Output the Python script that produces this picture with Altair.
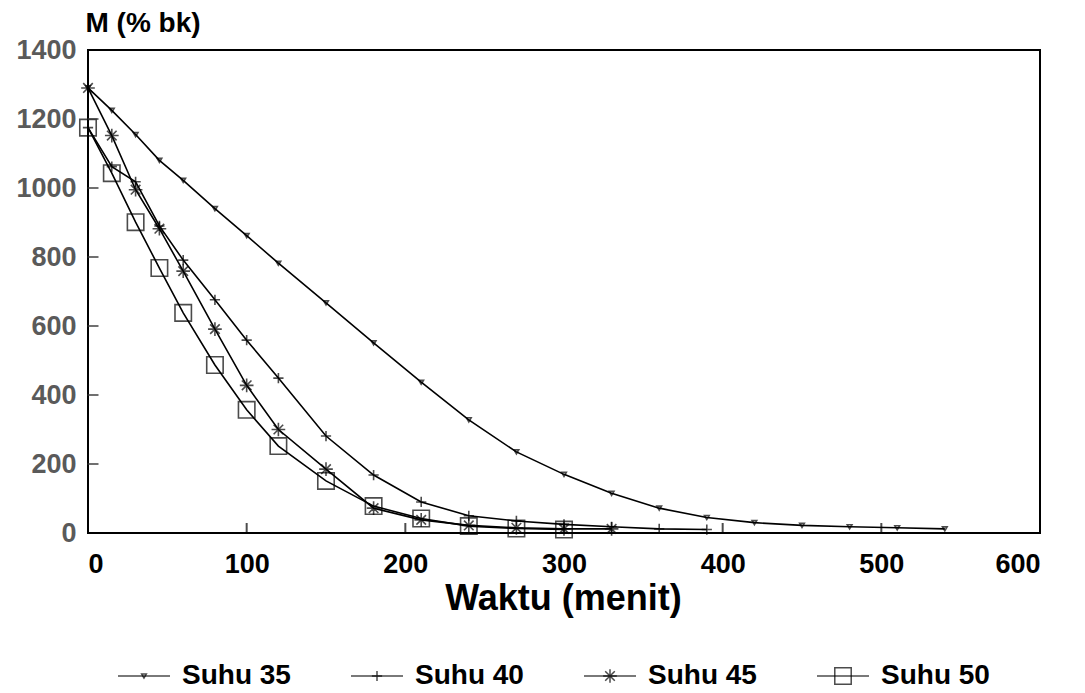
import altair as alt
import pandas as pd

series = ["Suhu 35", "Suhu 40", "Suhu 45", "Suhu 50"]

t35 = [0, 15, 30, 45, 60, 80, 100, 120, 150, 180, 210, 240, 270, 300, 330, 360, 390, 420, 450, 480, 510, 540]
m35 = [1290, 1225, 1155, 1080, 1022, 940, 862, 782, 667, 551, 437, 328, 235, 170, 115, 72, 45, 30, 22, 18, 15, 12]
t40 = [0, 15, 30, 45, 60, 80, 100, 120, 150, 180, 210, 240, 270, 300, 330, 360, 390]
m40 = [1175, 1062, 1018, 890, 791, 676, 559, 449, 281, 168, 90, 50, 35, 25, 18, 12, 10]
t45 = [0, 15, 30, 45, 60, 80, 100, 120, 150, 180, 210, 240, 270, 300, 330]
m45 = [1290, 1152, 995, 882, 759, 591, 428, 300, 185, 72, 38, 22, 15, 12, 12]
t50 = [0, 15, 30, 45, 60, 80, 100, 120, 150, 180, 210, 240, 270, 300]
m50 = [1175, 1043, 901, 768, 638, 487, 357, 252, 151, 78, 42, 20, 13, 10]

x_ticks = [0, 100, 200, 300, 400, 500, 600]
y_ticks = [0, 200, 400, 600, 800, 1000, 1200, 1400]

shapes = [
    "triangle-down",
    "M-1,0L1,0M0,-1L0,1",
    "M-1,0L1,0M0,-1L0,1M-0.7,-0.7L0.7,0.7M-0.7,0.7L0.7,-0.7",
    "square",
]
sizes = [22, 270, 260, 140]

rows = []
for name, ts, ms in zip(series, [t35, t40, t45, t50], [m35, m40, m45, m50]):
    for t, m in zip(ts, ms):
        rows.append({"series": name, "t": t, "m": m})
df = pd.DataFrame(rows)
xt_df = pd.DataFrame({"v": x_ticks[1:-1]})
yt_df = pd.DataFrame({"v": y_ticks[1:-1]})

FONT = "Liberation Sans"
xs = alt.Scale(domain=[0, 600], nice=False, zero=False)
ys = alt.Scale(domain=[0, 1400], nice=False)
shape_scale = alt.Scale(domain=series, range=shapes)
size_scale = alt.Scale(domain=series, range=sizes)

base = alt.Chart(df)

lines = base.mark_line(color="black", strokeWidth=1.6).encode(
    x=alt.X("t:Q", scale=xs, axis=alt.Axis(
        values=x_ticks, ticks=False, domain=False, grid=False, labelPadding=18, format="d",
        labelFont=FONT, labelFontSize=27, labelFontWeight="bold", labelColor="black",
        title="Waktu (menit)", titleFont=FONT, titleFontSize=36, titleFontWeight="bold",
        titleColor="black", titlePadding=4, titleX=475)),
    y=alt.Y("m:Q", scale=ys, axis=alt.Axis(
        values=y_ticks, ticks=False, domain=False, grid=False, labelPadding=12, format="d",
        labelFont=FONT, labelFontSize=27, labelFontWeight="bold", labelColor="#5a5a5a",
        title="M (% bk)", titleFont=FONT, titleFontSize=28, titleFontWeight="bold",
        titleColor="black", titleAngle=0, titleAlign="left", titleBaseline="bottom",
        titleX=-3, titleY=-13)),
    detail="series:N",
)

points = base.mark_point(filled=False, color="black", strokeWidth=1.6).encode(
    x=alt.X("t:Q", scale=xs),
    y=alt.Y("m:Q", scale=ys),
    shape=alt.Shape("series:N", scale=shape_scale, legend=None),
    size=alt.Size("series:N", scale=size_scale, legend=None),
)

x_tick_marks = alt.Chart(xt_df).mark_tick(
    orient="vertical", size=10, thickness=2, color="black", yOffset=-5
).encode(x=alt.X("v:Q", scale=xs), y=alt.datum(0))

y_tick_marks = alt.Chart(yt_df).mark_tick(
    orient="horizontal", size=11, thickness=2, color="#333", xOffset=5
).encode(y=alt.Y("v:Q", scale=ys), x=alt.datum(0))

main = alt.layer(lines, points, x_tick_marks, y_tick_marks).properties(
    width=952, height=483,
    view=alt.ViewBackground(stroke="black", strokeWidth=2))

leg_df = pd.DataFrame({"series": series})
lx = alt.X("series:N", scale=alt.Scale(type="point", domain=series, range=[56, 755],
                                       padding=0), axis=None)
leg_line = alt.Chart(leg_df).mark_tick(orient="horizontal", size=52, thickness=1.6,
                                       color="black").encode(x=lx)
leg_pt = alt.Chart(leg_df).mark_point(filled=False, color="black", strokeWidth=1.5).encode(
    x=lx,
    shape=alt.Shape("series:N", scale=shape_scale, legend=None),
    size=alt.Size("series:N", scale=size_scale, legend=None),
)
leg_txt = alt.Chart(leg_df).mark_text(
    align="left", baseline="middle", dx=38, font=FONT, fontSize=28, fontWeight="bold",
    color="black"
).encode(x=lx, text="series:N")
legend = alt.layer(leg_line, leg_pt, leg_txt).properties(
    width=952, height=30, view=alt.ViewBackground(stroke=None))

chart = alt.vconcat(main, legend, spacing=44).resolve_scale(x="independent").properties(
    padding={"left": 6, "top": 0, "right": 5, "bottom": 0}
).configure_axis(grid=False).configure(background="white")

chart.save("out.html", embed_options={"renderer": "svg", "actions": False})
